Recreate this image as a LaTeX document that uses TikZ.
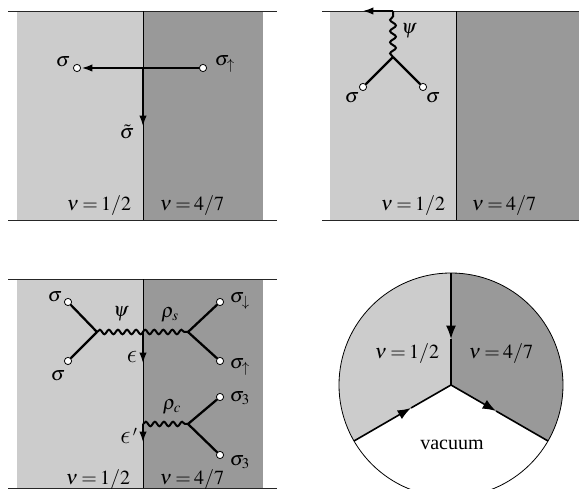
\documentclass[tikz,border=0pt]{standalone}
\usepackage{mathptmx}
\usepackage{fontspec}
\setmainfont{Liberation Serif}
\DeclareSymbolFont{cmlett}{OML}{cmm}{m}{it}
\DeclareMathSymbol{\lunateps}{\mathord}{cmlett}{"0F}
\usetikzlibrary{arrows.meta,decorations.pathmorphing}
\definecolor{lightreg}{HTML}{CCCCCC}
\definecolor{darkreg}{HTML}{999999}
\newcommand{\nuval}[1]{$\nu\mkern3mu{=}\mkern3mu#1$}
\newcommand{\bigeps}{\scalebox{1.35}{$\lunateps$}}
\begin{document}
\begin{tikzpicture}[x=0.75pt,y=0.75pt,
  font=\fontsize{15}{18}\selectfont,
  lab/.style={inner sep=0pt},
  dot/.style={circle,draw=black,fill=white,line width=0.6pt,inner sep=0pt,minimum size=5.4pt},
  leg/.style={line width=1.7pt},
  arr/.style={line width=1.7pt,-{Latex[length=8.5pt,width=5.5pt]}},
  wavy/.style={line width=1.5pt,decorate,decoration={snake,amplitude=1.7pt,segment length=6.8pt}},
  wavyb/.style={line width=1.5pt,decorate,decoration={snake,amplitude=2.2pt,segment length=8.4pt}},
  bound/.style={line width=0.7pt,draw=black!85},
  divide/.style={line width=0.6pt,draw=black},
  sline/.style={line width=1.2pt},
  sarr/.style={line width=1.2pt,-{Latex[length=10pt,width=7.5pt]}}]
\clip (0,0) rectangle (579,489);
\useasboundingbox (0,0) rectangle (579,489);

% ---------- Panel 1 (top left) ----------
\fill[lightreg] (17,269) rectangle (143,478);
\fill[darkreg] (143,269) rectangle (263,478);
\draw[bound] (8,478) -- (277,478);
\draw[bound] (8,269) -- (277,269);
\draw[divide] (143,269) -- (143,478);
\node[dot] (a1) at (77,421) {};
\node[dot] (b1) at (203,421) {};
\coordinate (j1) at (143,421);
\coordinate (t1) at (143,362);
\draw[arr] (b1) -- (a1);
\draw[arr] (j1) -- (t1);
\node[lab] (la1) at (63,427) {$\sigma$};
\node[lab] (lb1) at (225,425) {$\sigma_{\uparrow}$};
\node[lab] (lt1) at (127,357) {$\tilde\sigma$};
\node[lab] (n11) at (99,283) {\nuval{1/2}};
\node[lab] (n12) at (192,283) {\nuval{4/7}};

% ---------- Panel 2 (top right) ----------
\fill[lightreg] (330,269) rectangle (456,478);
\fill[darkreg] (456,269) rectangle (579,478);
\draw[bound] (322,478) -- (579,478);
\draw[bound] (322,269) -- (579,269);
\draw[divide] (456,269) -- (456,478);
\coordinate (v2) at (393,432);
\coordinate (top2) at (393,478);
\coordinate (tip2) at (362,478);
\node[dot] (a2) at (363,402) {};
\node[dot] (b2) at (423,402) {};
\draw[wavyb] (v2) -- (top2);
\draw[arr] (top2) -- (tip2);
\draw[leg] (v2) -- (a2);
\draw[leg] (v2) -- (b2);
\node[lab] (psi2) at (409,458) {$\psi$};
\node[lab] (la2) at (352,391) {$\sigma$};
\node[lab] (lb2) at (433,391) {$\sigma$};
\node[lab] (n21) at (413,283) {\nuval{1/2}};
\node[lab] (n22) at (504,283) {\nuval{4/7}};

% ---------- Panel 3 (bottom left) ----------
\fill[lightreg] (17,1) rectangle (143,210);
\fill[darkreg] (143,1) rectangle (263,210);
\draw[bound] (8,210) -- (277,210);
\draw[bound] (8,1) -- (277,1);
\draw[divide] (143,1) -- (143,210);
\coordinate (vl) at (97,157);
\coordinate (jm) at (143,157);
\coordinate (vr) at (188,157);
\coordinate (te) at (143,125);
\coordinate (jl) at (143,65);
\coordinate (vb) at (188,65);
\coordinate (tl) at (143,46);
\node[dot] (c1) at (68,187) {};
\node[dot] (c2) at (68,128) {};
\node[dot] (c3) at (220,187) {};
\node[dot] (c4) at (220,128) {};
\node[dot] (c5) at (220,92) {};
\node[dot] (c6) at (220,34) {};
\draw[leg] (vl) -- (c1);
\draw[leg] (vl) -- (c2);
\draw[leg] (vr) -- (c3);
\draw[leg] (vr) -- (c4);
\draw[leg] (vb) -- (c5);
\draw[leg] (vb) -- (c6);
\draw[wavy] (vl) -- (vr);
\draw[wavy] (jl) -- (vb);
\draw[arr] (jm) -- (te);
\draw[arr] (jl) -- (tl);
\node[lab] (l31) at (55,192) {$\sigma$};
\node[lab] (l32) at (58,113) {$\sigma$};
\node[lab] (lpsi) at (121,175) {$\psi$};
\node[lab] (lrs) at (170,174) {$\rho_s$};
\node[lab] (l33) at (240,188) {$\sigma_{\downarrow}$};
\node[lab] (l34) at (240,122) {$\sigma_{\uparrow}$};
\node[lab] (leps) at (132,132) {\bigeps};
\node[lab] (lrc) at (172,82) {$\rho_c$};
\node[lab] (l35) at (240,91) {$\sigma_3$};
\node[lab] (lepsp) at (129,53) {\bigeps$\,'$};
\node[lab] (l36) at (240,27) {$\sigma_3$};
\node[lab] (n31) at (98,9) {\nuval{1/2}};
\node[lab] (n32) at (192,9) {\nuval{4/7}};

% ---------- Panel 4 (disc) ----------
\coordinate (c) at (451,104);
\fill[lightreg] (c) -- ++(90:112) arc[start angle=90,end angle=210,radius=112] -- cycle;
\fill[darkreg] (c) -- ++(-30:112) arc[start angle=-30,end angle=90,radius=112] -- cycle;
\draw[line width=0.6pt] (c) circle[radius=112];
\coordinate (ptop) at (451,216);
\coordinate (pleft) at (354,48);
\coordinate (pright) at (548,48);
\coordinate (m1) at (451,150);
\coordinate (m2) at (411,81);
\coordinate (m3) at (496,78);
\draw[sarr] (ptop) -- (m1);
\draw[sline] (m1) -- (c);
\draw[sarr] (pleft) -- (m2);
\draw[sline] (m2) -- (c);
\draw[sarr] (c) -- (m3);
\draw[sline] (m3) -- (pright);
\node[lab] (n41) at (407,135) {\nuval{1/2}};
\node[lab] (n42) at (501,135) {\nuval{4/7}};
\node[lab] (vac) at (452,44) {vacuum};
\end{tikzpicture}
\end{document}
